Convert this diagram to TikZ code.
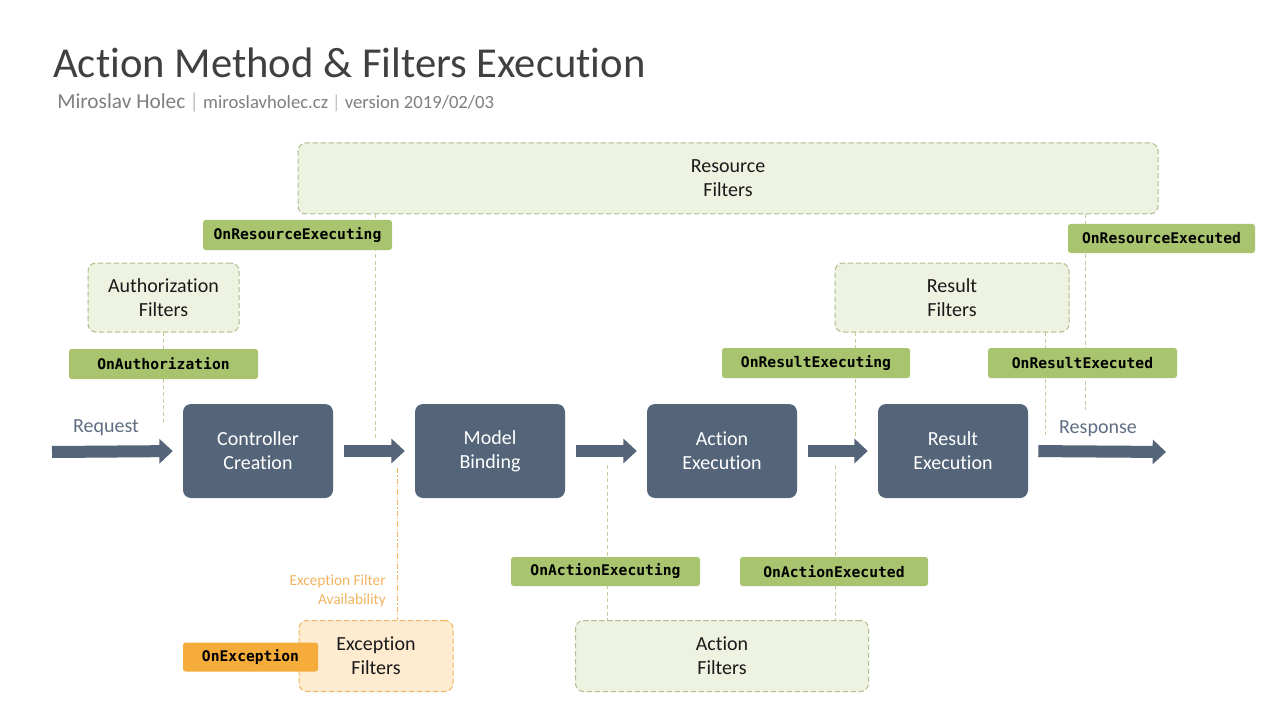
\documentclass[tikz,border=0pt]{standalone}
\usepackage{fontspec}
\setmainfont{Carlito}[Ligatures={NoCommon}]
\newfontfamily\codefont{DejaVu Sans Mono}
\usetikzlibrary{arrows.meta,backgrounds}
\definecolor{slate}{HTML}{546579}
\definecolor{lgreen}{HTML}{A9C46E}
\definecolor{pgreen}{HTML}{EEF2E1}
\definecolor{bgreen}{HTML}{AEBE8E}
\definecolor{vline}{HTML}{C9C99C}
\definecolor{orng}{HTML}{F5AC3B}
\definecolor{porng}{HTML}{FEEBD0}
\definecolor{borng}{HTML}{F2B45E}
\definecolor{txtorng}{HTML}{F2B460}
\definecolor{titlec}{HTML}{404040}
\definecolor{subc}{HTML}{7F7F7F}
\definecolor{sepc}{HTML}{BFBFBF}
\definecolor{reqc}{HTML}{5F6F83}
\definecolor{boxtxt}{HTML}{1A1A1A}
\begin{document}
\begin{tikzpicture}[x=0.75pt,y=-0.75pt,
  proc/.style={fill=slate, rounded corners=6pt, text=white, font=\fontsize{15}{18}\selectfont, align=center, minimum width=112.5pt, minimum height=70.5pt, inner sep=0pt},
  filt/.style={fill=pgreen, draw=bgreen, dash pattern=on 4pt off 2pt, line width=0.75pt, rounded corners=6pt, align=center, text=boxtxt, font=\fontsize{15}{18}\selectfont, inner sep=0pt, minimum height=53.25pt},
  efilt/.style={filt, fill=porng, draw=borng},
  hook/.style={fill=lgreen, rounded corners=2pt, font=\codefont\bfseries\fontsize{11}{13}\selectfont, inner sep=0pt, minimum height=22.5pt, minimum width=141.75pt},
  ehook/.style={hook, fill=orng, minimum width=101.25pt, minimum height=21.75pt},
  conn/.style={draw=vline, line width=0.75pt, dash pattern=on 3pt off 2pt},
  econn/.style={draw=borng, line width=0.75pt, dash pattern=on 4pt off 1.5pt on 1pt off 1.5pt},
  flow/.style={draw=slate, line width=9pt, -{Triangle[width=18pt,length=10pt]}},
  plain/.style={inner sep=0pt}
]
\useasboundingbox (0,0) rectangle (1280,720);

% title
\node[plain, anchor=base west, text=titlec, font=\fontsize{32}{38}\selectfont] (title) at (53,78) {Action Method \& Filters Execution};
\node[plain, anchor=base west, text=subc] (sub) at (57,109)
  {\fontsize{16}{19}\selectfont Miroslav Holec\hspace{3pt}\textcolor{sepc}{|}\hspace{3pt}\fontsize{14}{17}\selectfont miroslavholec.cz\hspace{3pt}\textcolor{sepc}{|}\hspace{3pt}version 2019/02/03};

% filter boxes
\node[filt, minimum width=645pt] (res) at (728,178.5) {Resource\\Filters};
\node[filt, minimum width=113.25pt, minimum height=51.75pt] (auth) at (163.5,297.5) {Authorization\\Filters};
\node[filt, minimum width=175.5pt, minimum height=51.75pt] (resf) at (952,297.5) {Result\\Filters};
\node[filt, minimum width=219.75pt] (actf) at (722,656) {Action\\Filters};
\node[efilt, minimum width=115.5pt] (excf) at (376,656) {Exception\\Filters};

% process boxes
\node[proc] (cc) at (258,451) {Controller\\Creation};
\node[proc] (mb) at (490,451) {Model\\Binding};
\node[proc] (ae) at (722,451) {Action\\Execution};
\node[proc] (re) at (953,451) {Result\\Execution};

% hooks
\node[hook] (onrx) at (297.5,235) {OnResourceExecuting};
\node[hook, minimum width=140.25pt, minimum height=21.75pt] (onrd) at (1161.5,238.5) {OnResourceExecuted};
\node[hook] (onauth) at (163.5,364) {OnAuthorization};
\node[hook, minimum width=141pt] (onresx) at (816,363) {OnResultExecuting};
\node[hook] (onresd) at (1082.5,363) {OnResultExecuted};
\node[hook, minimum height=21.75pt] (onax) at (605.5,571.5) {OnActionExecuting};
\node[hook, minimum width=141pt, minimum height=21.75pt] (onad) at (834,571.5) {OnActionExecuted};
\node[ehook] (onexc) at (250.5,657) {OnException};

% labels
\node[plain, text=reqc, font=\fontsize{15}{18}\selectfont] (req) at (106,428) {Request};
\node[plain, text=reqc, font=\fontsize{15}{18}\selectfont] (resp) at (1098,429) {Response};
\node[plain, anchor=east, align=right, text=txtorng, font=\fontsize{11.5}{14.25}\selectfont] (avail) at (386,591) {Exception Filter\\Availability};

% free ends
\coordinate (reqstart) at (52,452);
\coordinate (respend) at (1166,452);
\coordinate (la1) at (163,332);   \coordinate (la2) at (163,425);
\coordinate (lb1) at (375,214);   \coordinate (lb2) at (375,440);
\coordinate (lc1) at (1085,214);  \coordinate (lc2) at (1085,410);
\coordinate (ld1) at (855,332);   \coordinate (ld2) at (855,437);
\coordinate (le1) at (1045,332);  \coordinate (le2) at (1045,435);
\coordinate (lf1) at (607,465);   \coordinate (lf2) at (607,620);
\coordinate (lg1) at (835,465);   \coordinate (lg2) at (835,620);
\coordinate (lh1) at (397,468);   \coordinate (lh2) at (397,620);

% flow arrows
\draw[flow, shorten >=7.5pt] (reqstart) -- (cc.west);
\draw[flow, shorten <=8pt, shorten >=7.5pt] (cc.east) -- (mb.west);
\draw[flow, shorten <=8pt, shorten >=7.5pt] (mb.east) -- (ae.west);
\draw[flow, shorten <=8pt, shorten >=7.5pt] (ae.east) -- (re.west);
\draw[flow, shorten <=7.5pt] (re.east) -- (respend);

\begin{scope}[on background layer]
  \fill[white] (0,0) rectangle (1280,720);
  \draw[conn] (la1) -- (la2);
  \draw[conn] (lb1) -- (lb2);
  \draw[conn] (lc1) -- (lc2);
  \draw[conn] (ld1) -- (ld2);
  \draw[conn] (le1) -- (le2);
  \draw[conn] (lf1) -- (lf2);
  \draw[conn] (lg1) -- (lg2);
  \draw[econn] (lh1) -- (lh2);
\end{scope}
\end{tikzpicture}
\end{document}
